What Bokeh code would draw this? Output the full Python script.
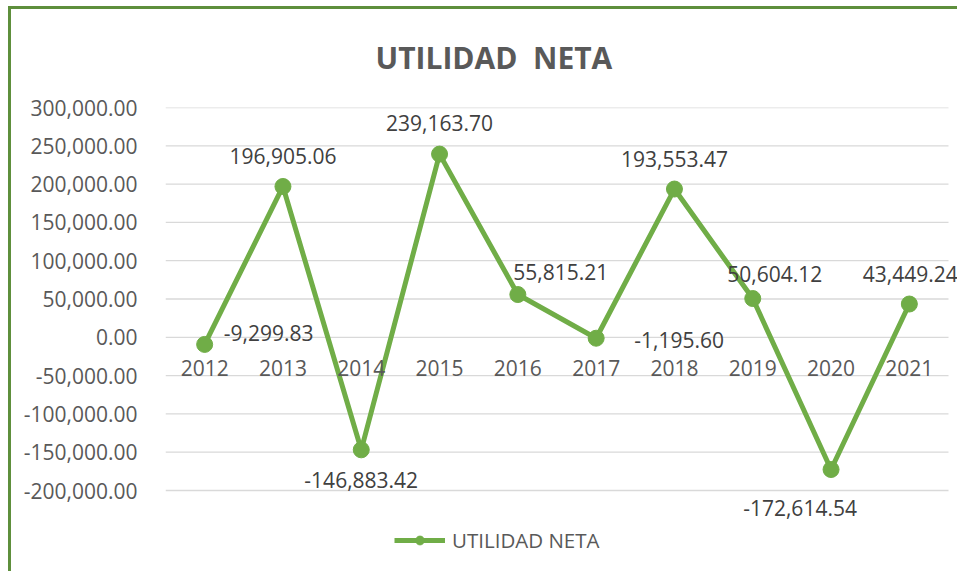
from bokeh.plotting import figure
from bokeh.models import (Range1d, FixedTicker, NumeralTickFormatter,
                          ColumnDataSource, Legend, LegendItem, LabelSet)
from bokeh.core.properties import value
from bokeh.embed import file_html
from bokeh.resources import INLINE

# ---- data ----
years = ["2012", "2013", "2014", "2015", "2016", "2017", "2018", "2019", "2020", "2021"]
utilidad = [-9299.83, 196905.06, -146883.42, 239163.70, 55815.21,
            -1195.60, 193553.47, 50604.12, -172614.54, 43449.24]
labels = ["-9,299.83", "196,905.06", "-146,883.42", "239,163.70", "55,815.21",
          "-1,195.60", "193,553.47", "50,604.12", "-172,614.54", "43,449.24"]
y_ticks = [-200000, -150000, -100000, -50000, 0, 50000, 100000, 150000, 200000, 250000, 300000]
series_name = "UTILIDAD NETA"
title_text = "UTILIDAD\u00a0 NETA"

# ---- label placement (screen px offsets, +up) ----
lab_dx = [64, 0, 0, 0, 43, 83, 0, 22, -31, 1]
lab_dy = [11, 30, -30, 31, 23, -2, 30, 25, -38, 30]

GREEN = "#70AD47"
BORDER = "#5E8F3C"
TXT = "#595959"
FONT = "Open Sans"

# ---- layout geometry (pixels) ----
W, H = 957, 571
LEFT, TOP = 165, 107
CAT_PX = 78.3                 # width of one category slot
AXIS_PX = 383                 # height from -200k to 300k
frame_w, frame_h = W - LEFT, H - TOP
x_pos = list(range(len(years)))
x_start = -0.5
x_end = x_start + frame_w / CAT_PX
y_top = y_ticks[-1]
y_bot = y_top - frame_h / AXIS_PX * (y_ticks[-1] - y_ticks[0])

p = figure(width=W, height=H, x_range=Range1d(x_start, x_end),
           y_range=Range1d(y_bot, y_top), output_backend="svg", toolbar_location=None,
           min_border_left=LEFT, min_border_right=0, min_border_top=TOP, min_border_bottom=0)
p.border_fill_color = None
p.background_fill_color = None
p.styles = {
    "background": ("linear-gradient(%s,%s) 8px 6px / 3px %dpx no-repeat, "
                   "linear-gradient(%s,%s) 8px 6px / %dpx 3px no-repeat, white")
                  % (BORDER, BORDER, H, BORDER, BORDER, W)
}

p.title.text = title_text
p.title.align = "left"
p.title.offset = 210
p.title.standoff = 59
p.title.text_font = FONT
p.title.text_font_style = "bold"
p.title.text_font_size = "30px"
p.title.text_color = TXT

p.outline_line_color = None
p.xaxis.visible = False
p.xgrid.grid_line_color = None
p.ygrid.grid_line_color = None

p.yaxis.ticker = FixedTicker(ticks=y_ticks)
p.yaxis.formatter = NumeralTickFormatter(format="0,0.00")
p.yaxis.axis_line_color = None
p.yaxis.major_tick_line_color = None
p.yaxis.minor_tick_line_color = None
p.yaxis.major_label_text_font = FONT
p.yaxis.major_label_text_font_size = "21px"
p.yaxis.major_label_text_color = TXT
p.yaxis.major_label_standoff = 22

# horizontal gridlines across the category slots
grid = ColumnDataSource(dict(y=y_ticks, x0=[x_start] * len(y_ticks),
                             x1=[len(years) - 0.5] * len(y_ticks)))
p.segment(x0="x0", x1="x1", y0="y", y1="y", source=grid, line_color="#D9D9D9", line_width=1.3)

src = ColumnDataSource(dict(x=x_pos, yr=years, y=utilidad, lab=labels, dx=lab_dx, dy=lab_dy,
                            zero=[0] * len(years)))

# category labels sit at the zero line
p.add_layout(LabelSet(x="x", y="zero", text="yr", source=src, y_offset=-31,
                      text_align="center", text_baseline="middle", text_font=value(FONT),
                      text_font_size="21px", text_color=TXT))

ln = p.line(x="x", y="y", source=src, line_color=GREEN, line_width=5)
sc = p.scatter(x="x", y="y", source=src, size=16, fill_color=GREEN, line_color=GREEN)

p.add_layout(LabelSet(x="x", y="y", text="lab", source=src, x_offset="dx", y_offset="dy",
                      text_align="center", text_baseline="middle", text_font=value(FONT),
                      text_font_size="21px", text_color="#404040"))

legend = Legend(items=[LegendItem(label=series_name, renderers=[ln, sc])],
                location=(229, 17), orientation="horizontal",
                label_text_font=FONT, label_text_font_size="20.5px", label_text_color=TXT,
                border_line_color=None, background_fill_alpha=0,
                glyph_width=51, glyph_height=22, label_height=22, padding=0, margin=0,
                label_standoff=7)
p.add_layout(legend)

open("out.html", "w").write(file_html(p, INLINE))
